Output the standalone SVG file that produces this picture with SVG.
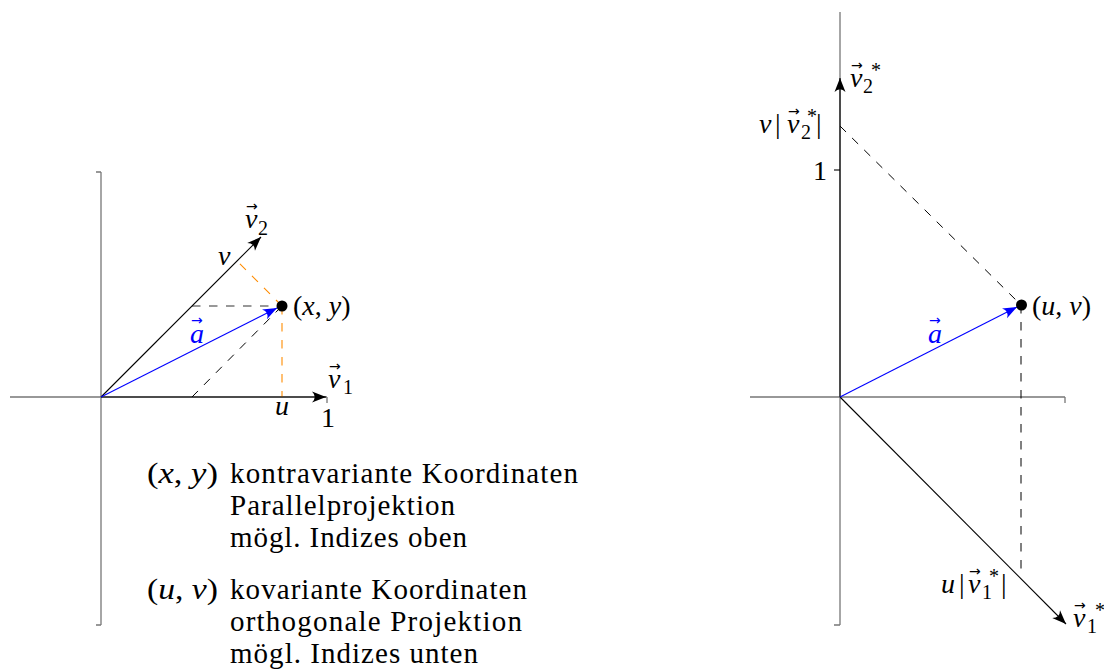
<svg xmlns="http://www.w3.org/2000/svg" width="1104" height="670" viewBox="0 0 1104 670">
<style>
.ax{stroke:#777;stroke-width:1.3;fill:none}
.vec{stroke:#000;stroke-width:1.1;fill:none}
.blue{stroke:#0000ff;stroke-width:1.1;fill:none}
.dash{stroke:#000;stroke-width:1;stroke-dasharray:8.5 8.5;fill:none}
.gdash{stroke:#777;stroke-width:1.6;stroke-dasharray:8.5 8.5;fill:none}
.odash{stroke:#ff8c00;stroke-width:1.1;stroke-dasharray:8.5 8.5;fill:none}
.m{font-style:italic;font-size:28px}
.r{font-size:28px}
.s{font-size:20px}
.ar{font-size:14px}
.t{font-size:29px}
.bl{fill:#0000ff}
</style>
<defs>
<marker id="ah" viewBox="-15 -7 16 14" refX="0" refY="0" markerWidth="16" markerHeight="14" orient="auto" markerUnits="userSpaceOnUse">
<path d="M0,0 L-14,-5.5 Q-8.5,0 -14,5.5 Z" fill="#000"/>
</marker>
<marker id="ahb" viewBox="-15 -7 16 14" refX="0" refY="0" markerWidth="16" markerHeight="14" orient="auto" markerUnits="userSpaceOnUse">
<path d="M0,0 L-14,-5.5 Q-8.5,0 -14,5.5 Z" fill="#0000ff"/>
</marker>
</defs>

<g id="connectors">
<path class="ax" d="M101,172 V625 M96,172 H101 M96,625 H101"/>
<path class="ax" d="M10,397 H327 M327,397 V403"/>
<line class="gdash" x1="192" y1="306" x2="282" y2="306"/>
<line class="dash" x1="192" y1="397" x2="282" y2="306"/>
<line class="odash" x1="282" y1="306" x2="282" y2="397"/>
<line class="odash" x1="282" y1="306" x2="237" y2="261"/>
<line class="vec" x1="101" y1="397" x2="326" y2="397" marker-end="url(#ah)"/>
<line class="vec" x1="101" y1="397" x2="261" y2="237" marker-end="url(#ah)"/>
<line class="blue" x1="101" y1="397" x2="277" y2="308" marker-end="url(#ahb)"/>
<path class="ax" d="M840,12 V625 M834,625 H840"/>
<path class="ax" d="M750,397 H1065 M1065,397 V403"/>
<path class="vec" d="M834,170 H840"/>
<line class="dash" x1="840" y1="126" x2="1021" y2="305"/>
<line class="dash" x1="1021" y1="305" x2="1021" y2="572"/>
<line class="vec" x1="840" y1="397" x2="840" y2="78" marker-end="url(#ah)"/>
<line class="vec" x1="840" y1="397" x2="1066" y2="624" marker-end="url(#ah)"/>
<line class="blue" x1="840" y1="397" x2="1017" y2="307" marker-end="url(#ahb)"/>
</g>

<g id="labels" font-family="Liberation Serif, Times New Roman, serif" fill="#000">
<g id="point-xy">
<circle cx="282" cy="306" r="5.5" fill="#000"/>
<text x="293" y="315" class="r">(<tspan class="m">x</tspan>, <tspan class="m">y</tspan>)</text>
</g>
<g id="label-v1">
<text x="328" y="388" class="m">v</text>
<text x="343" y="394" class="s">1</text>
<text x="329" y="371" class="ar" font-family="DejaVu Sans, sans-serif">→</text>
</g>
<g id="label-v2">
<text x="245" y="228" class="m">v</text>
<text x="258" y="235" class="s">2</text>
<text x="246" y="211" class="ar" font-family="DejaVu Sans, sans-serif">→</text>
</g>
<g id="label-a-left">
<text x="190" y="343" class="m bl">a</text>
<text x="191" y="325" class="ar bl" font-family="DejaVu Sans, sans-serif">→</text>
</g>
<g id="label-v">
<text x="218" y="265" class="m">v</text>
</g>
<g id="label-u">
<text x="275" y="415" class="m">u</text>
</g>
<g id="label-1-left">
<text x="321" y="427" class="r">1</text>
</g>

<g id="legend">
<text x="147" y="483" class="t" textLength="71" lengthAdjust="spacingAndGlyphs">(<tspan font-style="italic">x</tspan>, <tspan font-style="italic">y</tspan>)</text>
<text x="230" y="483" class="t" textLength="348">kontravariante Koordinaten</text>
<text x="230" y="515" class="t" textLength="225">Parallelprojektion</text>
<text x="230" y="547" class="t" textLength="237">mögl. Indizes oben</text>
<text x="147" y="599" class="t" textLength="71" lengthAdjust="spacingAndGlyphs">(<tspan font-style="italic">u</tspan>, <tspan font-style="italic">v</tspan>)</text>
<text x="230" y="599" class="t" textLength="297">kovariante Koordinaten</text>
<text x="230" y="631" class="t" textLength="292">orthogonale Projektion</text>
<text x="230" y="663" class="t" textLength="248">mögl. Indizes unten</text>
</g>

<g id="point-uv">
<circle cx="1021.5" cy="305" r="5.5" fill="#000"/>
<text x="1032" y="315" class="r">(<tspan class="m">u</tspan>, <tspan class="m">v</tspan>)</text>
</g>
<g id="label-a-right">
<text x="928" y="343" class="m bl">a</text>
<text x="929" y="325" class="ar bl" font-family="DejaVu Sans, sans-serif">→</text>
</g>
<g id="label-v2star">
<text x="850" y="87" class="m">v</text>
<text x="863" y="93" class="s">2</text>
<text x="871" y="77" class="s">*</text>
<text x="851" y="70" class="ar" font-family="DejaVu Sans, sans-serif">→</text>
</g>
<g id="label-v-v2star">
<text x="759" y="133" class="m">v</text>
<text x="775" y="133" class="r">|</text>
<text x="787" y="133" class="m">v</text>
<text x="801" y="139" class="s">2</text>
<text x="807" y="123" class="s">*</text>
<text x="788" y="116" class="ar" font-family="DejaVu Sans, sans-serif">→</text>
<text x="816" y="133" class="r">|</text>
</g>
<g id="label-1-right">
<text x="813" y="180" class="r">1</text>
</g>
<g id="label-u-v1star">
<text x="941" y="593" class="m">u</text>
<text x="959" y="593" class="r">|</text>
<text x="968" y="593" class="m">v</text>
<text x="982" y="599" class="s">1</text>
<text x="989" y="583" class="s">*</text>
<text x="969" y="576" class="ar" font-family="DejaVu Sans, sans-serif">→</text>
<text x="1001" y="593" class="r">|</text>
</g>
<g id="label-v1star">
<text x="1073" y="627" class="m">v</text>
<text x="1087" y="633" class="s">1</text>
<text x="1095" y="617" class="s">*</text>
<text x="1074" y="610" class="ar" font-family="DejaVu Sans, sans-serif">→</text>
</g>
</g>
</svg>
